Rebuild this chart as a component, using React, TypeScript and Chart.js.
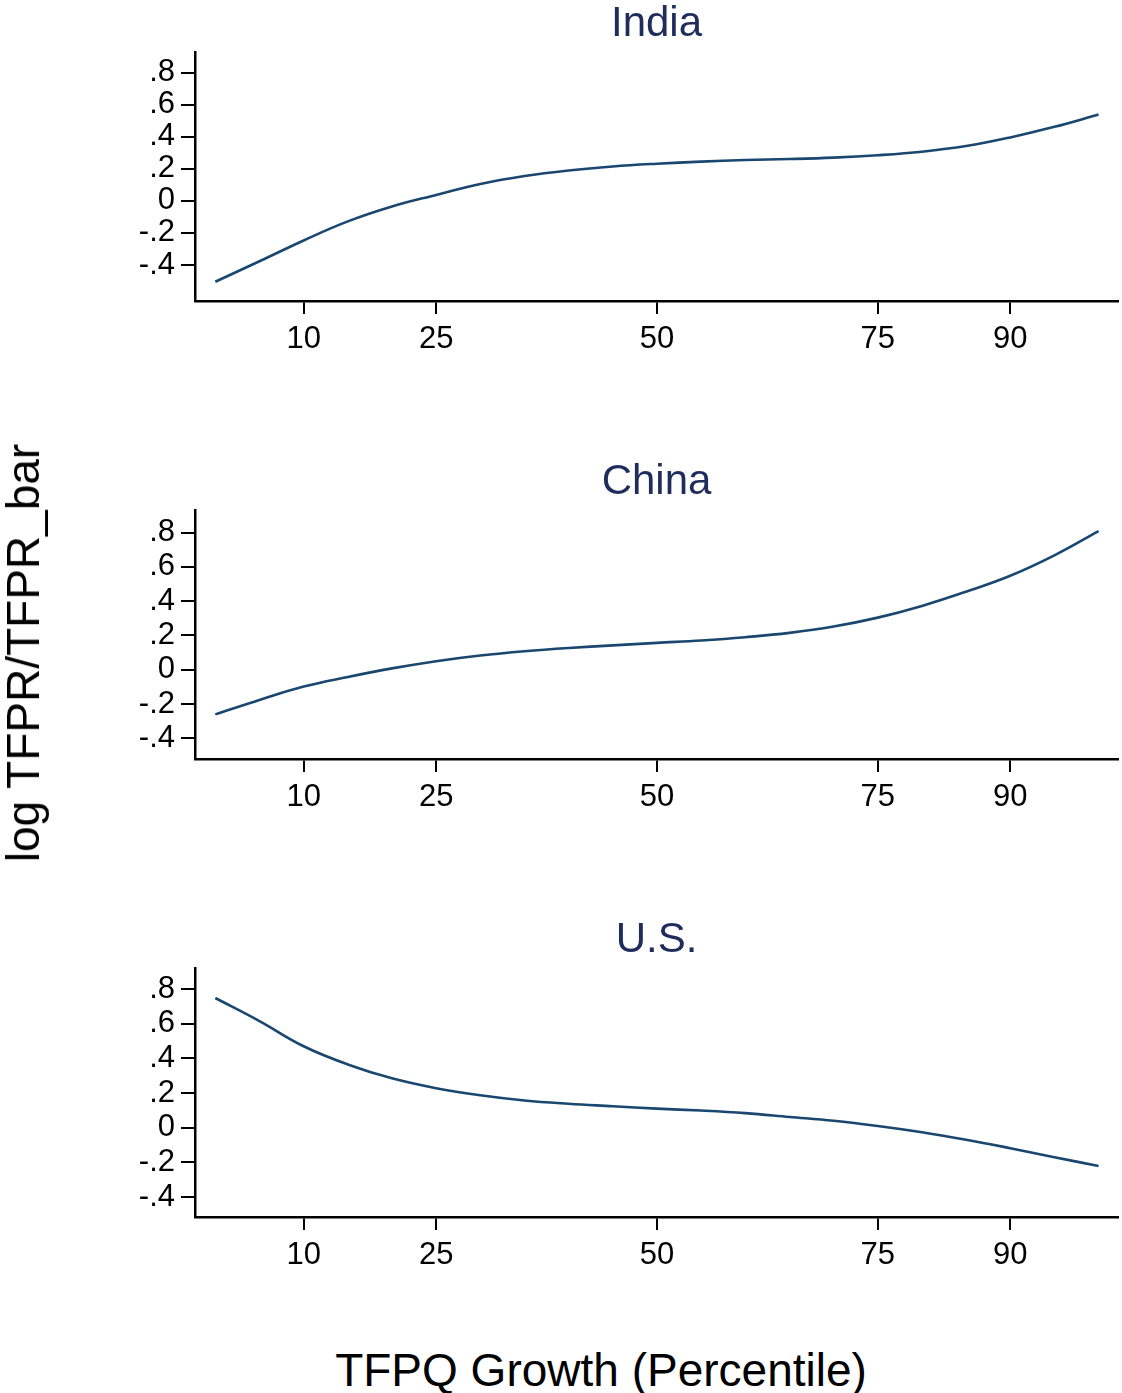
import React, { useEffect, useRef } from 'react';
import { Chart, registerables } from 'chart.js';

Chart.register(...registerables);

// Percentile positions the smoothed curves are read at
const percentiles = [0, 5, 10, 15, 20, 25, 30, 35, 40, 45, 50, 55, 60, 65, 70, 75, 80, 85, 90, 95, 100];

// log TFPR / TFPR_bar
const indiaValues = [-0.505, -0.377, -0.247, -0.128, -0.035, 0.037, 0.105, 0.155, 0.19, 0.215, 0.232, 0.245, 0.255, 0.261, 0.27, 0.285, 0.307, 0.342, 0.396, 0.462, 0.539];
const chinaValues = [-0.26, -0.176, -0.098, -0.042, 0.008, 0.05, 0.083, 0.108, 0.127, 0.142, 0.157, 0.171, 0.19, 0.215, 0.252, 0.304, 0.372, 0.455, 0.548, 0.667, 0.808];
const usValues = [0.748, 0.615, 0.47, 0.365, 0.285, 0.228, 0.187, 0.157, 0.138, 0.124, 0.11, 0.099, 0.084, 0.062, 0.04, 0.01, -0.026, -0.069, -0.118, -0.17, -0.221];

const panelTitles = ['India', 'China', 'U.S.'];
const xTickValues = [10, 25, 50, 75, 90];
const yTickValues = [-0.4, -0.2, 0, 0.2, 0.4, 0.6, 0.8];
const yTickLabels = ['-.4', '-.2', '0', '.2', '.4', '.6', '.8'];

const yAxisTitle = 'log TFPR/TFPR_bar';
const xAxisTitle = 'TFPQ Growth (Percentile)';

const FONT = '"Liberation Sans", Arial, Helvetica, sans-serif';
const LINE_COLOR = '#1a476f';
const TITLE_COLOR = '#1f2d5c';

const PANEL_HEIGHT = 360;
const PLOT_BOTTOM = 301;

type PanelProps = {
  title: string;
  values: number[];
  yMin: number;
  yMax: number;
  top: number;
};

const Panel: React.FC<PanelProps> = ({ title, values, yMin, yMax, top }) => {
  const chartRef = useRef<HTMLCanvasElement>(null);

  useEffect(() => {
    if (!chartRef.current) return;

    const axisGrid = {
      display: true,
      drawOnChartArea: false,
      drawTicks: true,
      tickLength: 14,
      color: '#000',
      lineWidth: 2,
    };
    const axisBorder = { display: true, color: '#000', width: 2.5 };
    const tickFont = { family: FONT, size: 31 };

    const chart = new Chart(chartRef.current, {
      type: 'line',
      data: {
        datasets: [{
          data: percentiles.map((p, i) => ({ x: p, y: values[i] })),
          borderColor: LINE_COLOR,
          borderWidth: 2.6,
          pointRadius: 0,
          fill: false,
          tension: 0.4,
        }],
      },
      options: {
        responsive: true,
        maintainAspectRatio: false,
        animation: false,
        layout: { padding: { left: 0, right: 4, top: 0, bottom: 0 } },
        plugins: {
          legend: { display: false },
          tooltip: { enabled: false },
          title: {
            display: true,
            text: title,
            fullSize: false,
            color: TITLE_COLOR,
            font: { family: FONT, size: 42, weight: 'normal', lineHeight: 1.1 },
            padding: { top: 1, bottom: 5 },
          },
        },
        scales: {
          x: {
            type: 'linear',
            min: -2.3,
            max: 102.2,
            afterBuildTicks: (axis: any) => {
              axis.ticks = xTickValues.map((value) => ({ value }));
            },
            afterFit: (axis: any) => {
              axis.height = PANEL_HEIGHT - PLOT_BOTTOM;
            },
            ticks: {
              color: '#000',
              font: tickFont,
              padding: 7,
              maxRotation: 0,
              autoSkip: false,
            },
            grid: { ...axisGrid, tickLength: 13 },
            border: axisBorder,
          },
          y: {
            min: yMin,
            max: yMax,
            afterBuildTicks: (axis: any) => {
              axis.ticks = yTickValues.map((value) => ({ value }));
            },
            afterFit: (axis: any) => {
              axis.width = 195;
            },
            ticks: {
              color: '#000',
              font: tickFont,
              padding: 6,
              callback: (_value: any, index: number) => yTickLabels[index],
            },
            grid: axisGrid,
            border: axisBorder,
          },
        },
      },
    } as any);

    return () => {
      chart.destroy();
    };
  }, [title, values, yMin, yMax]);

  return (
    <div style={{ position: 'absolute', left: 0, top, width: 1122, height: PANEL_HEIGHT }}>
      <canvas ref={chartRef} />
    </div>
  );
};

const App: React.FC = () => {
  useEffect(() => {
    document.body.style.margin = '0';
  }, []);

  return (
    <div style={{ position: 'relative', width: 1122, height: 1393, overflow: 'hidden', background: '#fff' }}>
      <Panel title={panelTitles[0]} values={indiaValues} yMin={-0.625} yMax={0.928} top={0} />
      <Panel title={panelTitles[1]} values={chinaValues} yMin={-0.52} yMax={0.93} top={458} />
      <Panel title={panelTitles[2]} values={usValues} yMin={-0.515} yMax={0.92} top={916} />

      <div
        style={{
          position: 'absolute',
          left: 23,
          top: 653,
          transform: 'translate(-50%, -50%) rotate(-90deg)',
          whiteSpace: 'nowrap',
          fontFamily: FONT,
          fontSize: 46,
          lineHeight: '46px',
          color: '#000',
        }}
      >
        {yAxisTitle}
      </div>

      <div
        style={{
          position: 'absolute',
          left: 601,
          top: 1347,
          transform: 'translateX(-50%)',
          whiteSpace: 'nowrap',
          fontFamily: FONT,
          fontSize: 46,
          lineHeight: '46px',
          color: '#000',
        }}
      >
        {xAxisTitle}
      </div>
    </div>
  );
};

export default App;
